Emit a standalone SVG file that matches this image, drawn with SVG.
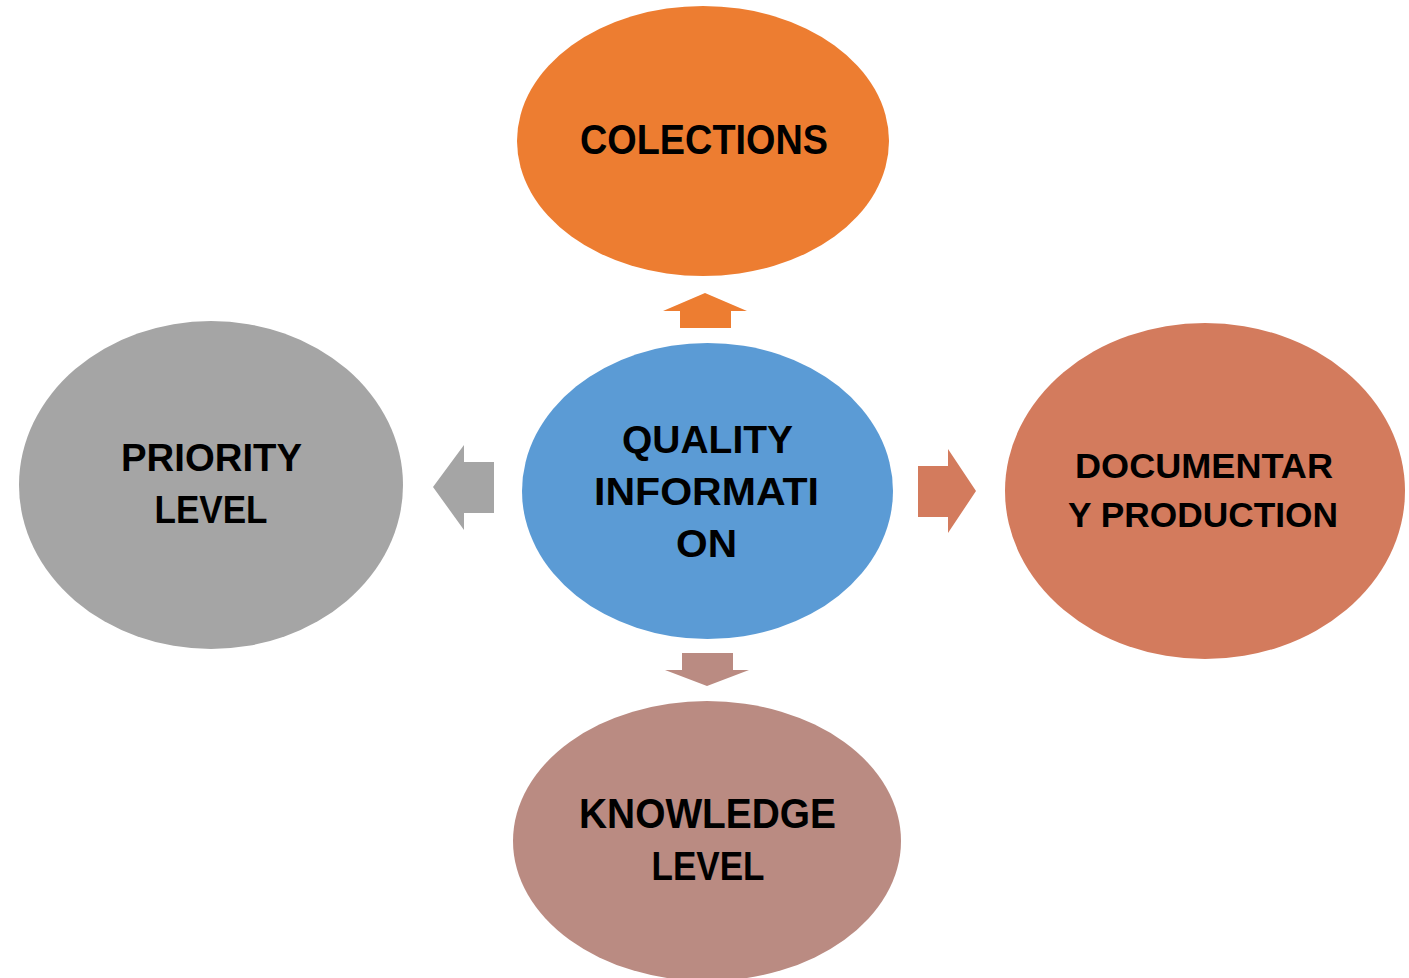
<svg xmlns="http://www.w3.org/2000/svg" width="1409" height="978" viewBox="0 0 1409 978">
<style>
text{font-family:"Liberation Sans",Arial,sans-serif;font-weight:bold;fill:#000;text-anchor:middle}
</style>
<rect width="1409" height="978" fill="#fff"/>
<g id="connectors">
<polygon points="705,293 747,311 731,311 731,328 680,328 680,311 663,311" fill="#ED7D31"/>
<polygon points="433,487 464,445 464,462 494,462 494,513 464,513 464,530" fill="#A5A5A5"/>
<polygon points="976,491 948,449 948,466 918,466 918,517 948,517 948,533" fill="#D37B5D"/>
<polygon points="707,686 749,670 733,670 733,653 682,653 682,670 665,670" fill="#BA8B82"/>
</g>
<g id="colections">
<ellipse cx="703" cy="141" rx="186" ry="135" fill="#ED7D31"/>
<text x="704" y="154" font-size="42" textLength="248" lengthAdjust="spacingAndGlyphs">COLECTIONS</text>
</g>
<g id="quality">
<ellipse cx="707.5" cy="491" rx="185.5" ry="148" fill="#5B9BD5"/>
<text x="707.5" y="453" font-size="38" textLength="171" lengthAdjust="spacingAndGlyphs">QUALITY</text>
<text x="706.5" y="505" font-size="38" textLength="225" lengthAdjust="spacingAndGlyphs">INFORMATI</text>
<text x="706.5" y="557" font-size="38" textLength="61" lengthAdjust="spacingAndGlyphs">ON</text>
</g>
<g id="priority">
<ellipse cx="211" cy="485" rx="192" ry="164" fill="#A5A5A5"/>
<text x="211.5" y="471" font-size="39" textLength="181" lengthAdjust="spacingAndGlyphs">PRIORITY</text>
<text x="211" y="523" font-size="39" textLength="113" lengthAdjust="spacingAndGlyphs">LEVEL</text>
</g>
<g id="documentary">
<ellipse cx="1205" cy="491" rx="200" ry="168" fill="#D37B5D"/>
<text x="1204" y="478" font-size="35" textLength="258" lengthAdjust="spacingAndGlyphs">DOCUMENTAR</text>
<text x="1203" y="527" font-size="35" textLength="270" lengthAdjust="spacingAndGlyphs">Y PRODUCTION</text>
</g>
<g id="knowledge">
<ellipse cx="707" cy="841" rx="194" ry="140" fill="#BA8B82"/>
<text x="707.5" y="828" font-size="42" textLength="257" lengthAdjust="spacingAndGlyphs">KNOWLEDGE</text>
<text x="708" y="880" font-size="40" textLength="113" lengthAdjust="spacingAndGlyphs">LEVEL</text>
</g>
</svg>
